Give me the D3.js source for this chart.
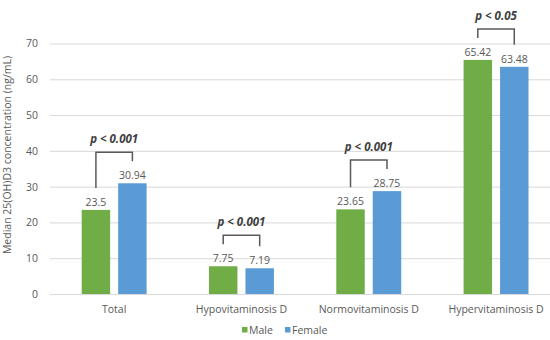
<!DOCTYPE html>
<html>
<head>
<meta charset="utf-8">
<script src="https://cdn.jsdelivr.net/npm/d3@7"></script>
<style>
  body { margin: 0; background: #fff; }
  text { font-family: "Open Sans", sans-serif; }
</style>
</head>
<body>
<script>
const categories = ["Total", "Hypovitaminosis D", "Normovitaminosis D", "Hypervitaminosis D"]
const seriesNames = ["Male", "Female"]
const male = [23.5, 7.75, 23.65, 65.42]
const female = [30.94, 7.19, 28.75, 63.48]
const pLabels = ["p < 0.001", "p < 0.001", "p < 0.001", "p < 0.05"]
const yTicks = [0, 10, 20, 30, 40, 50, 60, 70]
const colors = ["#70ad47", "#5b9bd5"]

const w = 550
const h = 340

const svg = d3.select("body")
  .append("svg")
  .attr("width", w)
  .attr("height", h)

const yscale = d3.scaleLinear()
  .domain([0, 70])
  .range([294, 43.5])

const x0 = d3.scaleBand()
  .domain(categories)
  .range([50.5, 559.7])
  .paddingInner(0.49)
  .paddingOuter(0.245)

const x1 = d3.scaleBand()
  .domain(seriesNames)
  .range([0, x0.bandwidth()])
  .paddingInner(0.22)

// gridlines + y labels
const yAxis = d3.axisLeft(yscale)
  .tickValues(yTicks)
  .tickSize(-(w - 50))
  .tickPadding(12)

svg.append("g")
  .attr("transform", "translate(50,0)")
  .call(yAxis)
  .call(g => g.select(".domain").remove())
  .call(g => g.selectAll(".tick line").attr("stroke", "#d9d9d9"))
  .call(g => g.selectAll(".tick text")
    .attr("fill", "#595959")
    .style("font-size", "10.5px"))

svg.append("text")
  .attr("transform", "translate(11,155) rotate(-90)")
  .attr("text-anchor", "middle")
  .attr("fill", "#595959")
  .style("font-size", "10.5px")
  .text("Median 25(OH)D3 concentration (ng/mL)")

// x labels
const xAxis = d3.axisBottom(x0).tickSize(0).tickPadding(12)
svg.append("g")
  .attr("transform", "translate(0,294)")
  .call(xAxis)
  .call(g => g.select(".domain").remove())
  .call(g => g.selectAll(".tick text")
    .attr("fill", "#595959")
    .style("font-size", "10.5px"))

const rows = categories.map((c, i) => ({ cat: c, vals: [male[i], female[i]], p: pLabels[i] }))

const groups = svg.selectAll(".grp")
  .data(rows)
  .enter()
  .append("g")
  .attr("class", "grp")
  .attr("transform", d => "translate(" + x0(d.cat) + ",0)")

groups.selectAll("rect")
  .data(d => d.vals.map((v, j) => ({ name: seriesNames[j], v: v, j: j })))
  .enter()
  .append("rect")
  .attr("x", d => x1(d.name))
  .attr("width", x1.bandwidth())
  .attr("y", d => yscale(d.v))
  .attr("height", d => 294 - yscale(d.v))
  .attr("fill", d => colors[d.j])

groups.selectAll(".val")
  .data(d => d.vals.map((v, j) => ({ name: seriesNames[j], v: v })))
  .enter()
  .append("text")
  .attr("class", "val")
  .attr("x", d => x1(d.name) + x1.bandwidth() / 2)
  .attr("y", d => yscale(d.v) - 4)
  .attr("text-anchor", "middle")
  .attr("fill", "#595959")
  .style("font-size", "10.5px")
  .text(d => d.v)

// p-value brackets
groups.each(function(d) {
  const g = d3.select(this)
  const xa = x1(seriesNames[0]) + x1.bandwidth() / 2
  const xb = x1(seriesNames[1]) + x1.bandwidth() / 2
  const ya = yscale(d.vals[0]) - 22
  const yb = yscale(d.vals[1]) - 22
  const top = Math.min(ya, yb) - 9
  g.append("path")
    .attr("d", "M" + xa + "," + ya + "V" + top + "H" + xb + "V" + yb)
    .attr("fill", "none")
    .attr("stroke", "#595959")
    .attr("stroke-width", 1.5)
  g.append("text")
    .attr("x", (xa + xb) / 2)
    .attr("y", top - 9)
    .attr("text-anchor", "middle")
    .attr("fill", "#404040")
    .style("font-size", "11.5px")
    .style("font-weight", "bold")
    .style("font-style", "italic")
    .text(d.p)
})

// legend
const legend = svg.append("g").attr("transform", "translate(242,330)")
const items = [{ name: "Male", x: 0 }, { name: "Female", x: 43 }]
items.forEach((it, j) => {
  legend.append("rect")
    .attr("x", it.x)
    .attr("y", -3)
    .attr("width", 5.5)
    .attr("height", 5.5)
    .attr("fill", colors[j])
  legend.append("text")
    .attr("x", it.x + 7)
    .attr("y", 4)
    .attr("fill", "#595959")
    .style("font-size", "10.5px")
    .text(it.name)
})
</script>
</body>
</html>
